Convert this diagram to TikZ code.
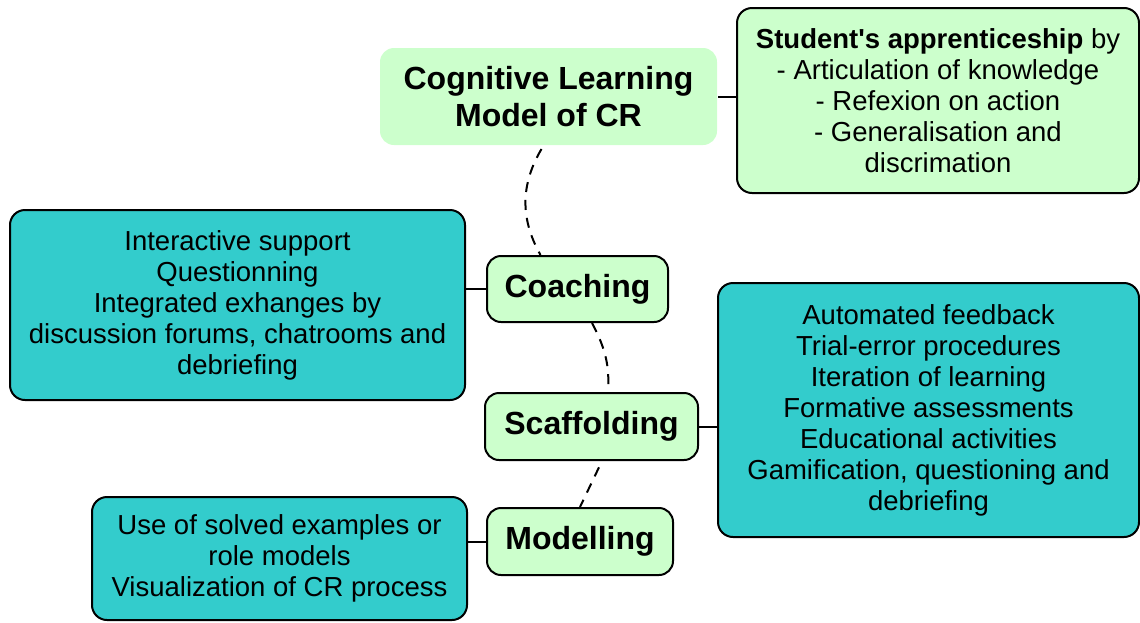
\documentclass[tikz,border=0pt]{standalone}
\usepackage{fontspec}
\setmainfont{Liberation Sans}
\usepackage{xcolor}
\usepackage{tikz}

\definecolor{mint}{RGB}{204,255,204}
\definecolor{lagoon}{RGB}{51,204,204}

\begin{document}
\begin{tikzpicture}[x=1pt,y=-1pt,
	topic/.style={draw,line width=2pt,fill=mint,rounded corners=14pt,align=center,inner sep=0pt,
		font=\fontsize{32}{37}\selectfont\bfseries},
	note/.style={draw,line width=2pt,rounded corners=15pt,align=center,inner sep=0pt,
		font=\fontsize{27.5}{31}\selectfont},
	link/.style={line width=2pt},
	trail/.style={line width=2pt,dash pattern=on 10pt off 8pt}]
	\useasboundingbox (0,0) rectangle (1140,622);

	% main branch
	\node[topic,draw=none,minimum width=337pt,minimum height=97pt] (cog) at (548.5,96.5) {Cognitive Learning\\Model of CR};
	\node[topic,minimum width=181pt,minimum height=66pt] (coach) at (577.5,289) {Coaching};
	\node[topic,minimum width=213pt,minimum height=67pt] (scaf) at (591.5,426.5) {Scaffolding};
	\node[topic,minimum width=186pt,minimum height=67pt] (model) at (580,541.5) {Modelling};

	% notes hanging on the branch
	\node[note,fill=mint,minimum width=402pt,minimum height=185pt] (stud) at (938,100.5)
		{\textbf{Student\textquotesingle s apprenticeship} by\\- Articulation of knowledge\\- Refexion on action\\- Generalisation and\\discrimation};
	\node[note,fill=lagoon,minimum width=455pt,minimum height=190pt] (coachnote) at (237.5,305)
		{Interactive support\\Questionning\\Integrated exhanges by\\discussion forums, chatrooms and\\debriefing};
	\node[note,fill=lagoon,minimum width=421pt,minimum height=254pt] (scafnote) at (928.5,410)
		{Automated feedback\\Trial-error procedures\\Iteration of learning\\Formative assessments\\Educational activities\\Gamification, questioning and\\debriefing};
	\node[note,fill=lagoon,minimum width=375pt,minimum height=123pt] (modelnote) at (279.5,558.5)
		{Use of solved examples or\\role models\\Visualization of CR process};

	\draw[link] (cog.east) -- (cog.east -| stud.west);
	\draw[link] (coach.west) -- (coach.west -| coachnote.east);
	\draw[link] (scaf.east) -- (scaf.east -| scafnote.west);
	\draw[link] (model.west) -- (model.west -| modelnote.east);

	\path[trail]
	([xshift=-7pt,yshift=-3pt]cog.south) edge [bend right=30] ([xshift=-37pt]coach.north)
	([xshift=14.5pt]coach.south) edge [bend left=15,shorten >=7pt] ([xshift=16.5pt]scaf.north)
	([xshift=10.5pt]scaf.south) edge [shorten <=7pt] (model.north);
\end{tikzpicture}
\end{document}
